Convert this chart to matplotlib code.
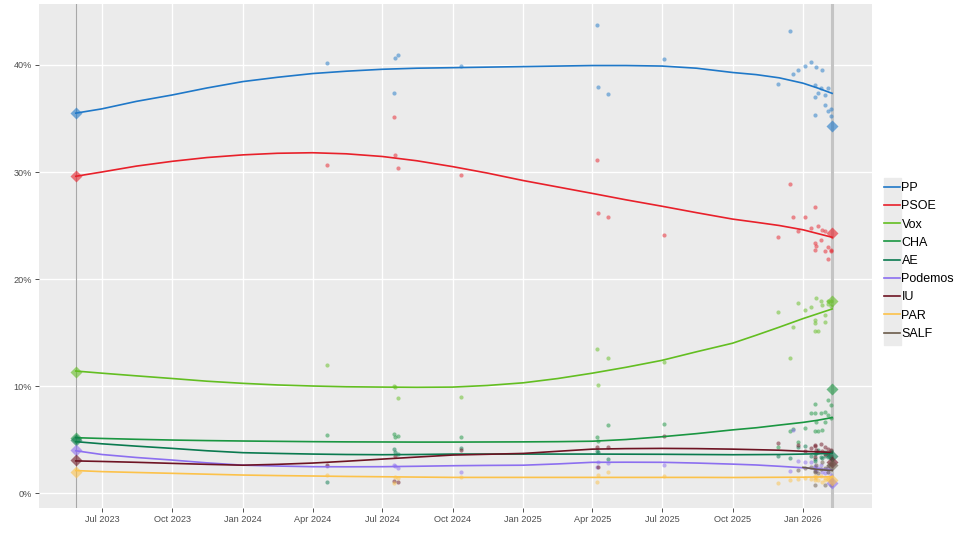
import numpy as np
import pandas as pd
import matplotlib
matplotlib.use("Agg")
import matplotlib.pyplot as plt
import matplotlib.dates as mdates
from matplotlib.lines import Line2D
from matplotlib.patches import Rectangle

nan = np.nan

parties = ["PP", "PSOE", "Vox", "CHA", "AE", "Podemos", "IU", "PAR", "SALF"]
colors = ["#1f78c8", "#e8202a", "#63be21", "#1a9641", "#0a7a4f",
          "#8c6ff0", "#6e1423", "#fcc24a", "#6b5b4b"]

# election results
election_dates = ["2023-05-28", "2026-02-08"]
res_2023 = [35.5, 29.6, 11.3, 5.1, 5.0, 4.0, 3.1, 2.0, nan]
res_2026 = [34.3, 24.3, 17.9, 9.7, 3.5, 0.9, 2.9, 1.2, 2.6]

# polls
poll_dates = ["2024-04-20", "2024-07-16", "2024-07-18", "2024-07-22", "2024-10-12",
              "2025-04-07", "2025-04-08", "2025-04-22", "2025-07-03",
              "2025-11-29", "2025-12-15", "2025-12-19", "2025-12-25", "2026-01-04",
              "2026-01-12", "2026-01-16", "2026-01-16", "2026-01-18", "2026-01-17",
              "2026-01-20", "2026-01-24", "2026-01-26", "2026-01-30", "2026-01-30",
              "2026-02-03", "2026-02-03", "2026-02-06", "2026-02-07"]
pp_polls = [40.2, 37.4, 40.7, 40.9, 39.9,
            43.7, 37.9, 37.3, 40.6,
            38.2, 43.2, 39.2, 39.5, 39.9,
            40.3, 38.1, 35.3, 39.8, 37.0,
            37.4, 37.85, 39.5, 37.2, 36.3,
            37.85, 35.7, 35.2, 35.9]
psoe_polls = [30.7, 35.1, 31.6, 30.4, 29.7,
              31.1, 26.2, 25.8, 24.1,
              23.9, 28.9, 25.8, 24.5, 25.8,
              24.8, 26.7, 23.4, 23.1, 22.7,
              25.0, 23.6, 24.6, 22.6, 24.5,
              23.0, 21.9, 22.7, 22.6]
vox_polls = [12.0, 10.0, 9.9, 8.9, 9.0,
             13.5, 10.1, 12.6, 12.2,
             16.9, 12.6, 15.5, 17.8, 17.1,
             17.4, 16.2, 15.1, 18.2, 15.9,
             15.1, 17.9, 17.6, 16.6, 16.0,
             17.7, 17.9, 17.5, 17.9]
cha_polls = [5.4, 5.5, 5.2, 5.3, 5.2,
             5.2, 4.9, 6.4, 6.45,
             4.3, 5.8, 6.0, 4.8, 6.1,
             7.5, 8.3, 5.8, 6.6, 7.5,
             5.8, 7.5, 5.9, 6.6, 7.6,
             7.3, 8.7, 8.2, 7.0]
ae_polls = [1.0, 4.1, 3.8, 3.6, 4.2,
            3.9, 3.8, 3.2, nan,
            3.5, 3.3, nan, 4.3, 4.4,
            3.5, 3.2, 3.0, 3.7, 3.6,
            4.0, 3.4, 3.3, 3.5, 3.8,
            3.4, 3.6, 3.9, 3.3]
podemos_polls = [2.5, 2.6, 2.5, 2.3, 2.0,
                 2.4, 2.9, 2.8, 2.6,
                 nan, 2.1, 5.9, 3.0, 2.9,
                 2.9, 2.4, 2.2, 2.1, 2.5,
                 2.3, 2.6, 2.0, 2.2, 1.9,
                 2.3, 2.0, 1.7, 1.2]
iu_polls = [2.6, 1.1, 3.5, 1.0, 4.0,
            4.3, 2.4, 4.3, 5.3,
            4.7, nan, nan, 4.5, 3.9,
            4.2, 4.4, 3.4, 4.0, 4.5,
            3.8, 4.6, 3.9, 4.3, 3.6,
            4.1, 3.7, 4.0, 3.5]
par_polls = [1.7, 0.9, 1.5, 1.4, 1.5,
             1.05, 1.7, 2.0, 1.6,
             0.9, 1.2, nan, 1.3, 1.4,
             1.3, 1.2, 1.6, 1.5, 1.4,
             1.2, 1.6, 1.0, 1.2, 1.4,
             1.5, 1.3, 1.1, 1.4]
salf_polls = [nan, nan, nan, nan, nan,
              nan, nan, nan, nan,
              nan, nan, nan, 2.15, 2.3,
              2.4, 0.75, 2.0, 2.6, 2.1,
              1.9, 2.2, 2.9, 0.75, 2.3,
              2.0, 2.5, 0.75, 2.7]

# trend lines
trend_dates = ["2023-05-28", "2023-07-01", "2023-08-15", "2023-10-01", "2023-11-15",
               "2024-01-01", "2024-02-15", "2024-04-01", "2024-05-15", "2024-07-01",
               "2024-08-15", "2024-10-01", "2024-11-15", "2025-01-01", "2025-02-15",
               "2025-04-01", "2025-05-15", "2025-07-01", "2025-08-15", "2025-10-01",
               "2025-11-01", "2025-12-01", "2026-01-01", "2026-01-20", "2026-02-08"]
pp_trend = [35.5, 35.9, 36.6, 37.2, 37.85, 38.45, 38.85, 39.2, 39.42, 39.6,
            39.7, 39.75, 39.8, 39.85, 39.9, 39.95, 39.95, 39.9, 39.7, 39.3,
            39.1, 38.8, 38.3, 37.85, 37.35]
psoe_trend = [29.6, 30.0, 30.55, 31.0, 31.35, 31.6, 31.75, 31.8, 31.7, 31.45,
              31.05, 30.5, 29.9, 29.2, 28.6, 28.0, 27.4, 26.8, 26.2, 25.6,
              25.3, 25.0, 24.6, 24.25, 23.9]
vox_trend = [11.4, 11.2, 10.95, 10.7, 10.45, 10.25, 10.1, 10.0, 9.93, 9.9,
             9.88, 9.9, 10.05, 10.3, 10.7, 11.2, 11.75, 12.4, 13.2, 14.0,
             14.75, 15.5, 16.3, 16.75, 17.2]
cha_trend = [5.17, 5.1, 5.02, 4.95, 4.9, 4.86, 4.83, 4.8, 4.78, 4.77,
             4.76, 4.76, 4.77, 4.78, 4.8, 4.84, 5.0, 5.26, 5.55, 5.9,
             6.1, 6.35, 6.6, 6.8, 7.05]
ae_trend = [4.8, 4.6, 4.38, 4.17, 3.95, 3.77, 3.7, 3.64, 3.6, 3.58,
            3.6, 3.64, 3.64, 3.64, 3.64, 3.64, 3.63, 3.62, 3.6, 3.58,
            3.59, 3.6, 3.64, 3.67, 3.7]
podemos_trend = [3.95, 3.6, 3.32, 3.08, 2.82, 2.6, 2.52, 2.46, 2.45, 2.46,
                 2.5, 2.55, 2.58, 2.6, 2.72, 2.87, 2.88, 2.87, 2.8, 2.7,
                 2.62, 2.5, 2.36, 2.25, 2.15]
iu_trend = [3.0, 2.95, 2.87, 2.77, 2.68, 2.6, 2.68, 2.8, 2.97, 3.17,
            3.36, 3.55, 3.62, 3.7, 3.9, 4.1, 4.15, 4.17, 4.15, 4.1,
            4.05, 4.0, 3.9, 3.85, 3.8]
par_trend = [2.1, 2.0, 1.92, 1.84, 1.76, 1.68, 1.63, 1.59, 1.55, 1.52,
             1.49, 1.46, 1.46, 1.46, 1.46, 1.46, 1.46, 1.46, 1.46, 1.45,
             1.46, 1.47, 1.48, 1.5, 1.52]
salf_trend = [nan, nan, nan, nan, nan, nan, nan, nan, nan, nan,
              nan, nan, nan, nan, nan, nan, nan, nan, nan, nan,
              nan, nan, 2.4, 2.2, 2.1]

tick_dates = ["2023-07-01", "2023-10-01", "2024-01-01", "2024-04-01", "2024-07-01",
              "2024-10-01", "2025-01-01", "2025-04-01", "2025-07-01", "2025-10-01",
              "2026-01-01"]
y_ticks = [0, 10, 20, 30, 40]

polls = [pp_polls, psoe_polls, vox_polls, cha_polls, ae_polls,
         podemos_polls, iu_polls, par_polls, salf_polls]
trends = [pp_trend, psoe_trend, vox_trend, cha_trend, ae_trend,
          podemos_trend, iu_trend, par_trend, salf_trend]

plt.rcParams['font.family'] = ['Liberation Sans', 'DejaVu Sans']

fig = plt.figure(figsize=(9.6, 5.34), dpi=100)
ax = fig.add_axes([39 / 960, 26 / 534, 833 / 960, 504 / 534])
ax.set_facecolor("#ebebeb")
for s in ax.spines.values():
    s.set_visible(False)

pdates = pd.to_datetime(poll_dates)
tdates = pd.to_datetime(trend_dates)
edates = pd.to_datetime(election_dates)

ax.axvline(edates[0], color="#a8a8a8", lw=0.8, zorder=1)
ax.axvline(edates[1], color="#c4c4c4", lw=2.2, zorder=1)

for name, col, pv, tv, r0, r1 in zip(parties, colors, polls, trends, res_2023, res_2026):
    ax.scatter(pdates, pv, s=9, color=col, alpha=0.5, lw=0, zorder=2)
    ax.plot(tdates, tv, color=col, lw=1.2, zorder=3, label=name,
            solid_joinstyle="round")
    ax.plot(edates, [r0, r1], ls="none", marker="D", ms=6, color=col, alpha=0.6,
            mec="none", zorder=4)

ax.set_xlim(pd.Timestamp("2023-04-10"), pd.Timestamp("2026-04-01"))
ax.set_ylim(-1.4, 45.7)
ax.set_xticks(pd.to_datetime(tick_dates))
ax.xaxis.set_major_formatter(mdates.DateFormatter("%b %Y"))
ax.set_yticks(y_ticks)
ax.set_yticklabels([f"{v}%" for v in y_ticks])
ax.grid(True, color="white", lw=1.0)
ax.set_axisbelow(True)
ax.tick_params(axis="both", labelsize=6.6, colors="#4d4d4d", length=3, width=0.6,
               pad=2)
ax.tick_params(axis="both", color="#333333")

fig.patches.append(Rectangle((884 / 960, 189 / 534), 17 / 960, 167 / 534,
                             transform=fig.transFigure, color="#ebebeb", zorder=-1))
handles = [Line2D([], [], color=c, lw=1.2) for c in colors]
ax.legend(handles, parties, loc="center left", bbox_to_anchor=(884 / 960, 273 / 534),
          bbox_transform=fig.transFigure, frameon=False, fontsize=9,
          handlelength=1.25, handletextpad=0.15, labelspacing=0.5, borderaxespad=0,
          borderpad=0)

fig.savefig("out.png", dpi=100, facecolor="white")
